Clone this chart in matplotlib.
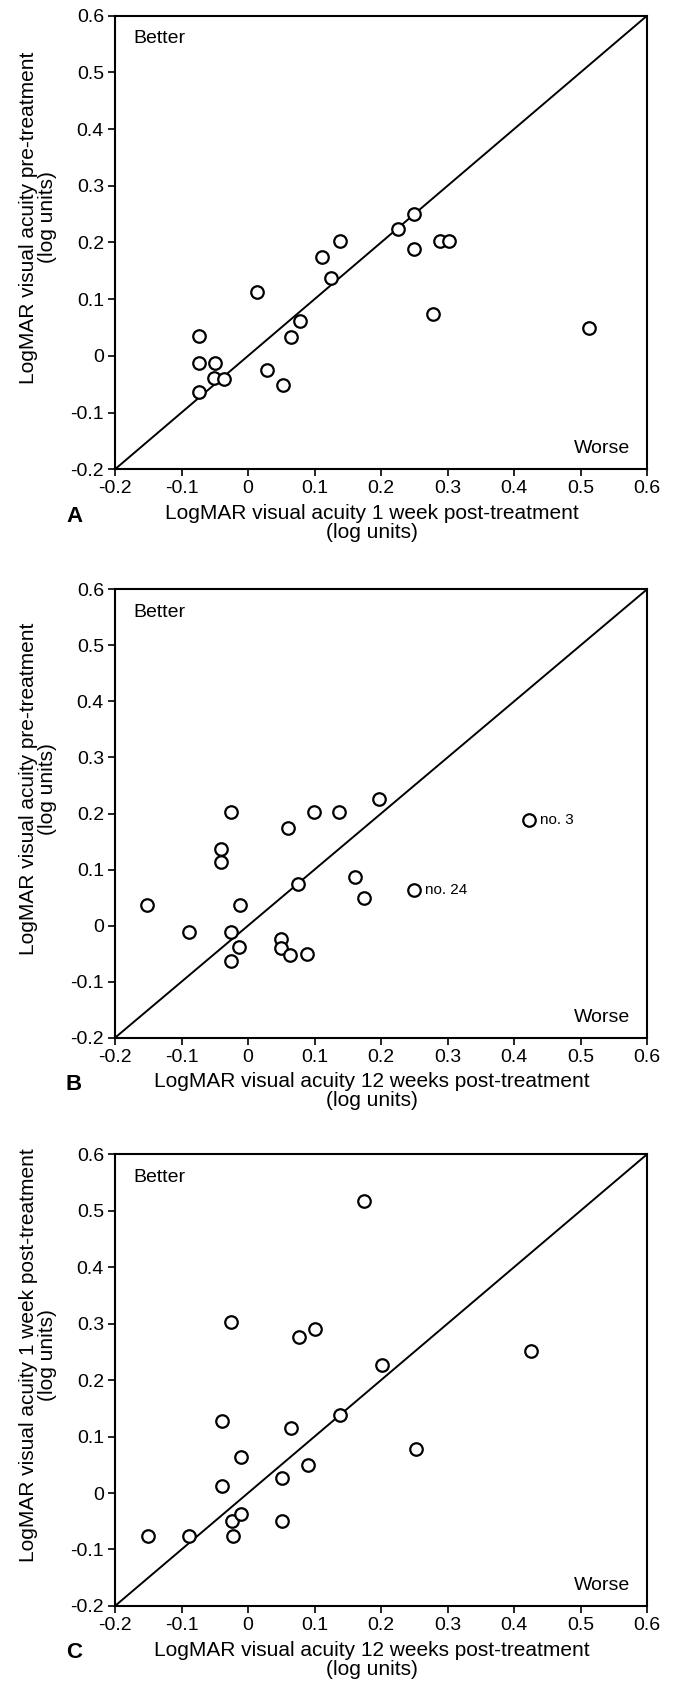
import numpy as np
import matplotlib.pyplot as plt

plt.rcParams['font.family'] = ['Liberation Sans', 'DejaVu Sans']
plt.rcParams['axes.unicode_minus'] = False

# panel A: 1 week post (x) vs pre-treatment (y)
a_x = [-0.074, -0.074, -0.073, -0.049, -0.051, -0.036, 0.013, 0.028, 0.052, 0.064, 0.078,
       0.112, 0.125, 0.139, 0.226, 0.250, 0.250, 0.288, 0.302, 0.278, 0.512]
a_y = [0.035, -0.013, -0.063, -0.013, -0.039, -0.040, 0.113, -0.025, -0.052, 0.034, 0.061,
       0.175, 0.137, 0.202, 0.224, 0.250, 0.188, 0.202, 0.202, 0.073, 0.049]

# panel B: 12 weeks post (x) vs pre-treatment (y)
b_x = [-0.152, -0.089, -0.025, -0.040, -0.040, -0.012, -0.025, -0.013, -0.025, 0.049, 0.049,
       0.063, 0.088, 0.075, 0.060, 0.099, 0.137, 0.197, 0.161, 0.175, 0.249, 0.423]
b_y = [0.036, -0.012, 0.202, 0.137, 0.113, 0.036, -0.011, -0.038, -0.063, -0.024, -0.039,
       -0.053, -0.051, 0.074, 0.175, 0.202, 0.202, 0.226, 0.087, 0.050, 0.063, 0.189]
b_notes = {20: 'no. 24', 21: 'no. 3'}

# panel C: 12 weeks post (x) vs 1 week post (y)
c_x = [-0.151, -0.088, -0.023, -0.024, -0.011, -0.039, -0.011, -0.039, -0.026, 0.051, 0.051,
       0.065, 0.090, 0.076, 0.100, 0.139, 0.175, 0.202, 0.252, 0.426]
c_y = [-0.076, -0.077, -0.077, -0.050, -0.038, 0.012, 0.063, 0.128, 0.303, 0.026, -0.049,
       0.115, 0.050, 0.277, 0.290, 0.138, 0.517, 0.227, 0.078, 0.252]

ticks = [-0.2, -0.1, 0, 0.1, 0.2, 0.3, 0.4, 0.5, 0.6]
tick_labels = ['-0.2', '-0.1', '0', '0.1', '0.2', '0.3', '0.4', '0.5', '0.6']

pre = 'LogMAR visual acuity pre-treatment\n(log units)'
wk1 = 'LogMAR visual acuity 1 week post-treatment\n(log units)'
wk12 = 'LogMAR visual acuity 12 weeks post-treatment\n(log units)'

panels = [
    ('A', a_x, a_y, wk1, pre, {}, [0.1709, 0.7225, 0.7905, 0.2682]),
    ('B', b_x, b_y, wk12, pre, b_notes, [0.1709, 0.3863, 0.7905, 0.2652]),
    ('C', c_x, c_y, wk12, wk1, {}, [0.1709, 0.0503, 0.7905, 0.2671]),
]

fig = plt.figure(figsize=(6.73, 16.91), dpi=100)

for letter, xs, ys, xl, yl, notes, pos in panels:
    ax = fig.add_axes(pos)
    ax.plot([-0.2, 0.6], [-0.2, 0.6], color='black', lw=1.4, zorder=2)
    ax.plot(xs, ys, 'o', mfc='white', mec='black', ms=9, mew=1.6, zorder=3,
            clip_on=False)
    for i, txt in notes.items():
        ax.annotate(txt, (xs[i], ys[i]), xytext=(8, 0), textcoords='offset points',
                    va='center', ha='left', fontsize=11)
    ax.set_xlim(-0.2, 0.6)
    ax.set_ylim(-0.2, 0.6)
    ax.set_xticks(ticks)
    ax.set_xticklabels(tick_labels)
    ax.set_yticks(ticks)
    ax.set_yticklabels(tick_labels)
    ax.tick_params(direction='out', length=5, width=1.2, labelsize=14, pad=3)
    for s in ax.spines.values():
        s.set_linewidth(1.5)
    ax.set_xlabel(xl, fontsize=15, linespacing=1.0)
    ax.xaxis.set_label_coords(0.483, -0.077, transform=ax.transAxes)
    ax.xaxis.label.set_va('top')
    ax.set_ylabel(yl, fontsize=15, linespacing=1.0)
    ax.yaxis.set_label_coords(-0.145, 0.555, transform=ax.transAxes)
    ax.yaxis.label.set_va('center')
    ax.text(0.034, 0.949, 'Better', transform=ax.transAxes, fontsize=14,
            ha='left', va='center')
    ax.text(0.968, 0.046, 'Worse', transform=ax.transAxes, fontsize=14,
            ha='right', va='center')
    ax.text(-0.077, -0.104, letter, transform=ax.transAxes, fontsize=16,
            fontweight='bold', ha='center', va='center')

fig.savefig('out.png', dpi=100)
